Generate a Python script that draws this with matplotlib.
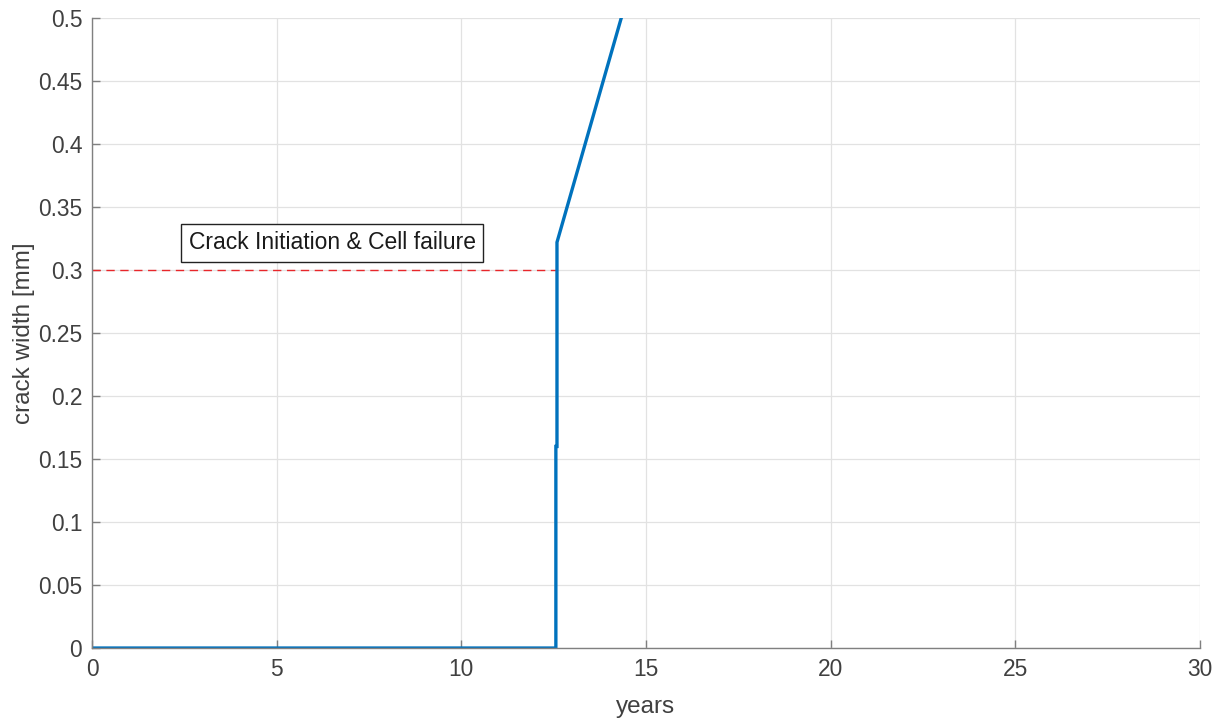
import numpy as np
import matplotlib
matplotlib.use('Agg')
import matplotlib.pyplot as plt

plt.rcParams['font.family'] = ['Liberation Sans', 'DejaVu Sans']

# crack width over time
years = [0, 12.56, 12.56, 12.59, 12.59, 14.33]
crack_width = [0, 0, 0.16, 0.16, 0.322, 0.5]

# threshold
threshold = 0.3
threshold_end = 12.56
label = 'Crack Initiation & Cell failure'

xticks = [0, 5, 10, 15, 20, 25, 30]
yticks = [0, 0.05, 0.1, 0.15, 0.2, 0.25, 0.3, 0.35, 0.4, 0.45, 0.5]

fig = plt.figure(figsize=(12.23, 7.21), dpi=100)
ax = fig.add_axes([0.0752, 0.1012, 0.9060, 0.8738])

ax.plot([0, threshold_end], [threshold, threshold], color='#e8262a', lw=1.0,
        dashes=(6, 4))
ax.plot(years, crack_width, color='#0072BD', lw=2.4, solid_joinstyle='miter')

ax.text(2.62, 0.3215, label, fontsize=16.5, color='#1a1a1a', va='center', ha='left',
        bbox=dict(boxstyle='square,pad=0.32', fc='white', ec='#222222', lw=1.0))

ax.set_xlim(0, 30)
ax.set_ylim(0, 0.5)
ax.set_xticks(xticks)
ax.set_yticks(yticks)
ax.set_yticklabels(['0', '0.05', '0.1', '0.15', '0.2', '0.25', '0.3', '0.35',
                    '0.4', '0.45', '0.5'])
ax.grid(True, color='#e2e2e2', lw=0.9)
ax.set_axisbelow(True)

for s in ['top', 'right']:
    ax.spines[s].set_visible(False)
for s in ['left', 'bottom']:
    ax.spines[s].set_color('#808080')
    ax.spines[s].set_linewidth(1.0)
ax.tick_params(direction='in', length=6, width=1.0, color='#808080',
               labelcolor='#404040', labelsize=16.4, pad=7)

ax.set_xlabel('years', fontsize=17.5, color='#404040', labelpad=11)
ax.set_ylabel('crack width [mm]', fontsize=17.5, color='#404040', labelpad=2.5)

fig.savefig('out.png', dpi=100)
